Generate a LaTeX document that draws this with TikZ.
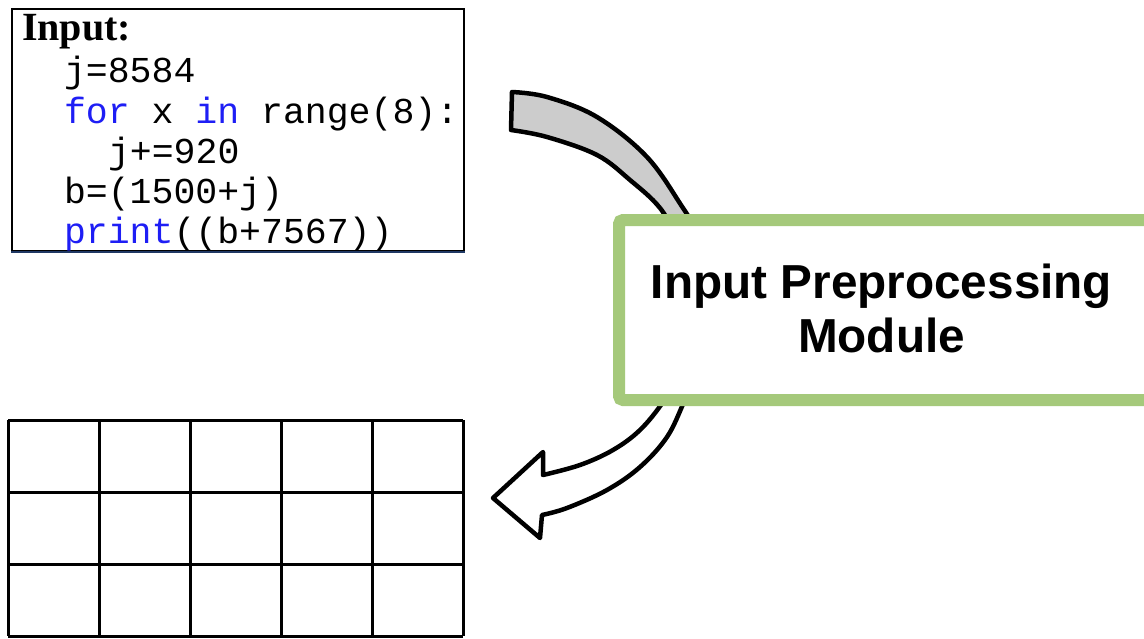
\documentclass[tikz,border=0pt]{standalone}
\usepackage{fontspec}
\setmainfont{Liberation Serif}
\setsansfont{Liberation Sans}
\setmonofont{Liberation Mono}
\definecolor{codeblue}{RGB}{30,30,245}
\definecolor{navyline}{RGB}{31,56,100}
\definecolor{modgreen}{RGB}{165,201,123}
\definecolor{arrowgray}{RGB}{204,204,204}
\tikzset{
  codeline/.style={anchor=base west, inner sep=0pt, outer sep=0pt, font=\fontsize{36.5}{40}\ttfamily\selectfont},
  titletext/.style={anchor=base west, inner sep=0pt, outer sep=0pt, font=\fontsize{40}{44}\rmfamily\bfseries\selectfont},
  modtext/.style={anchor=base, inner sep=0pt, outer sep=0pt, font=\fontsize{47.7}{54}\sffamily\bfseries\selectfont},
  modbox/.style={draw=modgreen, line width=12pt, fill=white, rounded corners=4pt, minimum width=539pt, minimum height=180pt, inner sep=0pt},
  bandarrow/.style={draw=black, line width=4.5pt, line join=round},
  gridline/.style={draw=black, line width=3pt}
}
\begin{document}
\begin{tikzpicture}[x=1pt,y=-1pt]
\clip (0,0) rectangle (1144,638);
\fill[white] (0,0) rectangle (1144,638);

% code box
\node[draw=black, line width=2pt, minimum width=452pt, minimum height=242pt, inner sep=0pt, anchor=north west] (codebox) at (11,8) {};
\draw[navyline, line width=2.5pt] (codebox.south west) -- (codebox.south east);
\node[titletext] (title) at (22,40) {Input:};
\node[codeline] (l1) at (64,82) {j=8584};
\node[codeline] (l2) at (64,123) {\textcolor{codeblue}{for} x \textcolor{codeblue}{in} range(8):};
\node[codeline] (l3) at (108,163) {j+=920};
\node[codeline] (l4) at (64,203) {b=(1500+j)};
\node[codeline] (l5) at (64,243) {\textcolor{codeblue}{print}((b+7567))};

% upper gray band
\path[bandarrow, fill=arrowgray]
  (512,92) -- (511,130)
  -- plot[smooth, tension=0.6] coordinates {(511,130) (547,137) (597,155) (630,180) (660,208) (682,245)}
  -- plot[smooth, tension=0.6] coordinates {(706,245) (683,208) (647,157) (597,117) (547,97) (512,92)}
  -- cycle;

% lower white arrow
\path[bandarrow, fill=white]
  (680,372)
  -- plot[smooth, tension=0.6] coordinates {(680,372) (663,402) (640,430) (613,450) (580,465) (543,475)}
  -- (543,452) -- (493,498) -- (540,538) -- (542,515)
  -- plot[smooth, tension=0.6] coordinates {(542,515) (567,508) (607,490) (640,467) (667,437) (684,402) (697,372)}
  -- cycle;

% module box
\node[modbox, anchor=north west] (module) at (613,214) {};
\node[modtext] (modl1) at (881.5,298) {Input Preprocessing};
\node[modtext] (modl2) at (881.5,352) {Module};

% output grid
\foreach \c in {8,99,190,281,372,463} {
  \draw[gridline] (\c,420) -- (\c,636);
}
\foreach \r in {420,492,564,636} {
  \draw[gridline] (8,\r) -- (463,\r);
}
\end{tikzpicture}
\end{document}
